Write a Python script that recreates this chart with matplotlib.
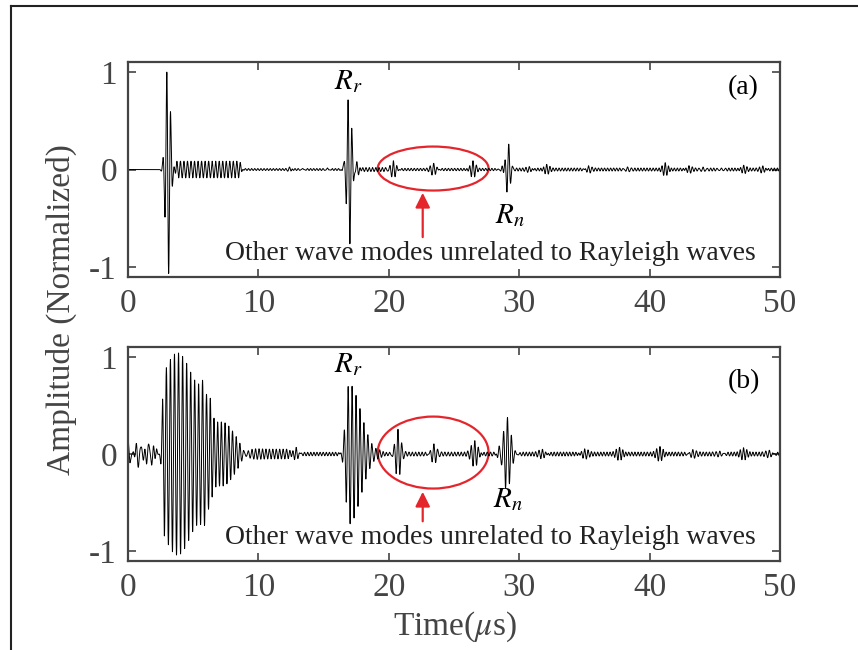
import numpy as np
import matplotlib
matplotlib.use("Agg")
import matplotlib.pyplot as plt
from matplotlib.patches import Ellipse
from matplotlib.lines import Line2D

plt.rcParams['font.family'] = ['Liberation Serif', 'DejaVu Serif']
plt.rcParams['mathtext.fontset'] = 'stix'

# ---------------- data ----------------
# Each wave packet: start, end (flat top), rise/fall widths (us), amplitude, carrier freq (MHz), phase reference time
# Panel (a)
a_start = [3.06, 3.75, 9.0, 12.4, 13.4, 15.3, 16.5, 16.96, 17.55, 18.0, 20.35, 21.0, 23.45, 26.45, 28.7, 29.15, 29.8,
           30.8, 32.1, 35.3, 38.3, 41.2, 43.0, 44.1, 45.5, 47.2, 48.7]
a_end = [3.06, 8.55, 16.2, 12.4, 13.4, 15.3, 16.5, 16.96, 17.55, 19.7, 20.35, 28.0, 23.45, 26.45, 28.7, 29.15, 50.0,
         30.8, 32.1, 35.3, 38.3, 41.2, 43.0, 44.1, 45.5, 47.2, 48.7]
a_rise = [0.18, 0.10, 0.30, 0.12, 0.12, 0.12, 0.08, 0.18, 0.12, 0.20, 0.22, 0.30, 0.22, 0.20, 0.10, 0.17, 0.20,
          0.20, 0.20, 0.20, 0.20, 0.20, 0.20, 0.20, 0.20, 0.20, 0.20]
a_fall = [0.18, 0.12, 0.30, 0.12, 0.12, 0.12, 0.08, 0.18, 0.15, 0.20, 0.22, 0.30, 0.22, 0.20, 0.10, 0.17, 0.20,
          0.20, 0.20, 0.20, 0.20, 0.20, 0.20, 0.20, 0.20, 0.20, 0.20]
a_amp = [1.12, 0.085, 0.010, 0.025, 0.020, 0.025, 0.04, 0.80, 0.08, 0.02, 0.09, 0.012, 0.065, 0.08, 0.04, 0.27, 0.015,
         0.030, 0.040, 0.045, 0.040, 0.055, 0.035, 0.040, 0.030, 0.035, 0.035]
a_freq = [3.33, 3.70, 4.2, 3.6, 3.6, 3.6, 3.5, 3.33, 3.5, 4.0, 3.7, 4.2, 3.7, 3.7, 3.5, 3.33, 4.3,
          3.8, 3.8, 3.8, 3.8, 3.8, 3.8, 3.8, 3.8, 3.8, 3.8]
a_t0 = [2.97, 3.75, 9.0, 12.4, 13.4, 15.3, 16.5, 16.87, 17.55, 18.0, 20.35, 21.0, 23.45, 26.45, 28.7, 29.2, 29.8,
        30.8, 32.1, 35.3, 38.3, 41.2, 43.0, 44.1, 45.5, 47.2, 48.7]

# Panel (b)
b_start = [0.0, 0.0, 0.0, 2.75, 2.8, 6.3, 9.0, 12.9, 13.3, 16.95, 19.3, 20.7, 23.45, 26.6, 28.45, 29.05, 30.3,
           31.8, 35.0, 37.7, 40.8, 43.3, 45.4, 47.2, 49.2]
b_end = [2.1, 2.1, 2.1, 5.7, 5.5, 7.2, 12.2, 12.9, 16.1, 16.95, 28.0, 20.7, 23.45, 26.6, 28.45, 29.05, 50.0,
         31.8, 35.0, 37.7, 40.8, 43.3, 45.4, 47.2, 49.2]
b_rise = [0.01, 0.01, 0.01, 0.12, 0.12, 0.10, 0.30, 0.20, 0.30, 0.25, 0.30, 0.22, 0.22, 0.25, 0.12, 0.25, 0.30,
          0.25, 0.25, 0.25, 0.25, 0.25, 0.25, 0.25, 0.25]
b_fall = [0.12, 0.12, 0.12, 0.40, 0.40, 1.00, 0.30, 0.20, 0.30, 0.90, 0.30, 0.22, 0.22, 0.25, 0.12, 0.30, 0.30,
          0.25, 0.25, 0.25, 0.25, 0.25, 0.25, 0.25, 0.25]
b_amp = [0.07, 0.05, 0.03, 0.88, 0.16, 0.33, 0.05, 0.07, 0.018, 0.72, 0.02, 0.27, 0.12, 0.13, 0.07, 0.38, 0.02,
         0.05, 0.05, 0.05, 0.06, 0.06, 0.045, 0.045, 0.05]
b_freq = [3.1, 1.9, 4.6, 3.25, 2.95, 3.5, 3.8, 3.5, 4.2, 3.3, 4.0, 3.5, 3.6, 3.6, 3.5, 3.3, 4.2,
          3.8, 3.8, 3.8, 3.8, 3.8, 3.8, 3.8, 3.8]
b_t0 = [0.0, 0.0, 0.0, 2.95, 2.864, 6.3, 9.0, 12.9, 13.3, 16.88, 19.3, 20.7, 23.45, 26.6, 28.45, 29.1, 30.3,
        31.8, 35.0, 37.7, 40.8, 43.3, 45.4, 47.2, 49.2]

x_ticks = [0, 10, 20, 30, 40, 50]
y_ticks = [-1, 0, 1]
y_ticklabels = ['-1', '0', '1']
panel_labels = ['(a)', '(b)']
note_text = 'Other wave modes unrelated to Rayleigh waves'


def build(t, start, end, rise, fall, amp, freq, t0):
    y = np.zeros_like(t)
    for s, e, r, f_, a, fr, p in zip(start, end, rise, fall, amp, freq, t0):
        env = np.ones_like(t)
        lo = t < s
        hi = t > e
        env[lo] = np.exp(-0.5 * ((t[lo] - s) / r) ** 2)
        env[hi] = np.exp(-0.5 * ((t[hi] - e) / f_) ** 2)
        y += a * env * np.cos(2 * np.pi * fr * (t - p))
    return y


t = np.linspace(0, 50, 15001)
ya = build(t, a_start, a_end, a_rise, a_fall, a_amp, a_freq, a_t0)
yb = build(t, b_start, b_end, b_rise, b_fall, b_amp, b_freq, b_t0)

fig = plt.figure(figsize=(8.58, 6.5), dpi=100)
ax1 = fig.add_axes([0.1492, 0.5738, 0.7599, 0.3308])
ax2 = fig.add_axes([0.1492, 0.1369, 0.7599, 0.3292])

spine_c = '#444444'
red = '#E4252C'

ell = {ax1: (23.4, 0.01, 8.5, 0.45), ax2: (23.4, 0.015, 8.5, 0.74)}
arrows = {ax1: (22.6, -0.72, -0.21), ax2: (22.6, -0.72, -0.36)}
rr_pos = {ax1: (16.9, 0.90), ax2: (16.9, 0.92)}
rn_pos = {ax1: (29.3, -0.47), ax2: (29.1, -0.47)}
lab_pos = {ax1: (47.2, 0.84), ax2: (47.2, 0.74)}

for ax, y, lab in [(ax1, ya, panel_labels[0]), (ax2, yb, panel_labels[1])]:
    ax.plot(t, y, color='black', lw=0.7)
    ax.set_xlim(0, 50)
    ax.set_ylim(-1.1, 1.1)
    ax.set_xticks(x_ticks)
    ax.set_yticks(y_ticks)
    ax.set_yticklabels(y_ticklabels)
    ax.tick_params(direction='in', top=True, right=True, length=6, width=1.2,
                   colors=spine_c, labelsize=24, pad=8)
    for sp in ax.spines.values():
        sp.set_color(spine_c)
        sp.set_linewidth(1.6)
    cx, cy, w, h = ell[ax]
    ax.add_patch(Ellipse((cx, cy), w, h, fill=False, edgecolor=red, lw=1.6))
    axx, y0, y1 = arrows[ax]
    ax.annotate('', xy=(axx, y1), xytext=(axx, y0),
                arrowprops=dict(arrowstyle='-|>', color=red, lw=1.6, mutation_scale=22))
    ax.text(*rr_pos[ax], '$R_r$', fontsize=21, ha='center', va='center')
    ax.text(*rn_pos[ax], '$R_n$', fontsize=21, ha='center', va='center')
    ax.text(*lab_pos[ax], lab, fontsize=20, ha='center', va='center')
    ax.text(27.8, -0.86, note_text, fontsize=20, ha='center', va='center', color='#222222')

fig.text(0.072, 0.523, 'Amplitude (Normalized)', rotation=90, fontsize=24,
         ha='center', va='center', color=spine_c)
fig.text(0.53, 0.035, 'Time($\\mu$s)', fontsize=24, ha='center', va='center', color=spine_c)

# outer frame lines (top and left edges)
fig.add_artist(Line2D([11 / 858, 1.0], [1 - 6 / 650, 1 - 6 / 650], transform=fig.transFigure,
                      color='#222222', lw=1.5))
fig.add_artist(Line2D([11 / 858, 11 / 858], [0.0, 1 - 6 / 650], transform=fig.transFigure,
                      color='#222222', lw=1.5))

fig.savefig('out.png', dpi=100)
